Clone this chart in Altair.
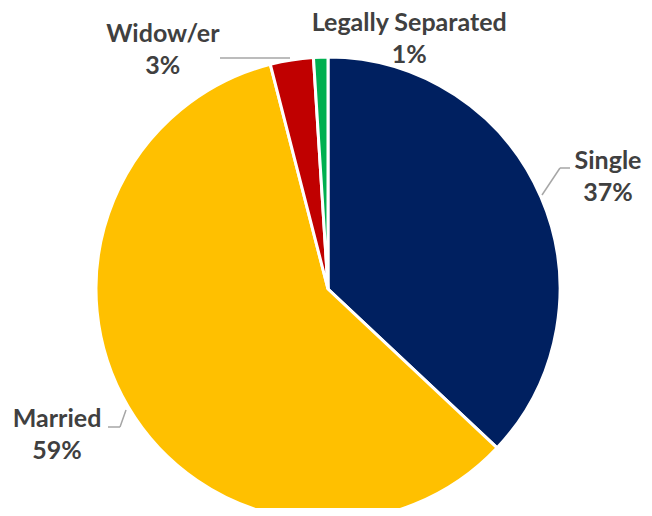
import math
import altair as alt
import pandas as pd

# Data
categories = ["Single", "Married", "Widow/er", "Legally Separated"]
shares = [37, 59, 3, 1]
pct_labels = ["37%", "59%", "3%", "1%"]
colors = ["#002060", "#FFC000", "#C00000", "#00B050"]

# Label layout (angle in degrees clockwise from 12 o'clock, radius in px)
label_angle_deg = [68.2, 241.6, 325.4, 18.0]
label_radius = [301.6, 308.0, 290.8, 262.8]

TOP = 10  # top padding in px

# Leader line segments (pixel coords in view)
leaders = [
    (534, 187, 552, 160), (552, 160, 562, 160),
    (100, 419, 112, 419), (112, 419, 118, 402),
    (212, 50, 282, 50),
]

CX, CY, R = 320, 281 - TOP, 232

df = pd.DataFrame({
    "category": categories,
    "share": shares,
    "order": list(range(len(categories))),
    "label": [f"{c}\n{p}" for c, p in zip(categories, pct_labels)],
    "la": [math.radians(a) for a in label_angle_deg],
    "lr": label_radius,
})

ldf = pd.DataFrame(leaders, columns=["x", "y", "x2", "y2"])
ldf["y"] = ldf["y"] - TOP
ldf["y2"] = ldf["y2"] - TOP

base = alt.Chart(df)

pie = base.mark_arc(radius=R, stroke="white", strokeWidth=3).encode(
    theta=alt.Theta("share:Q", stack=True),
    order=alt.Order("order:Q"),
    color=alt.Color("category:N",
                    scale=alt.Scale(domain=categories, range=colors),
                    legend=None),
    x=alt.value(CX),
    y=alt.value(CY),
)

labels = base.mark_text(
    font="Lato", fontSize=25, fontWeight="bold", color="#404040",
    align="center", baseline="middle", lineBreak="\n", lineHeight=32, dy=-16,
).encode(
    theta=alt.Theta("la:Q", scale=None),
    radius=alt.Radius("lr:Q", scale=None),
    text="label:N",
    x=alt.value(CX),
    y=alt.value(CY),
)

lines = alt.Chart(ldf).mark_rule(color="#A6A6A6", strokeWidth=1.5).encode(
    x=alt.X("x:Q", scale=None),
    y=alt.Y("y:Q", scale=None),
    x2="x2:Q",
    y2="y2:Q",
)

chart = alt.layer(pie, lines, labels).properties(
    width=636, height=500 - TOP,
    autosize=alt.AutoSizeParams(type="none"),
    padding={"top": TOP, "left": 0, "right": 0, "bottom": 0},
).configure_view(stroke=None)

chart.save("out.html", embed_options={"renderer": "svg", "actions": False})
